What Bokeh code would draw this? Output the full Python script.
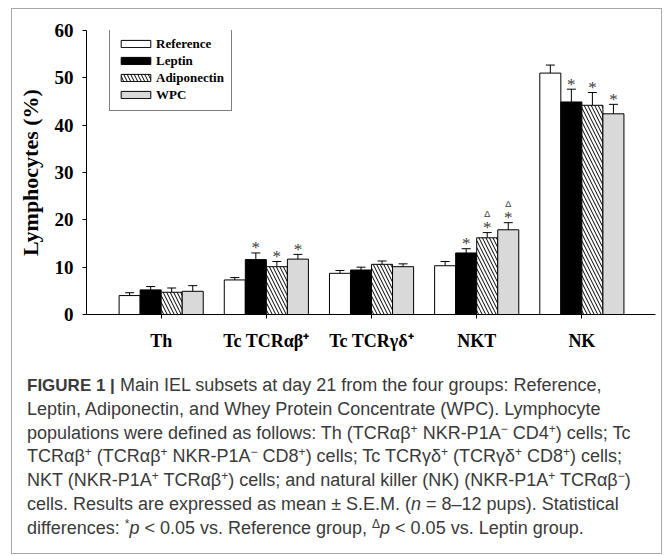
from bokeh.plotting import figure
from bokeh.layouts import column
from bokeh.models import (Range1d, FixedTicker, Legend, LegendItem, Div,
                          Whisker, ColumnDataSource, TeeHead)
from bokeh.core.properties import value
from bokeh.embed import file_html
from bokeh.resources import INLINE

# ---------------- data ----------------
categories = ["Th", "Tc TCRαβ⁺", "Tc TCRγδ⁺", "NKT", "NK"]
groups = ["Reference", "Leptin", "Adiponectin", "WPC"]
reference = [4.0, 7.3, 8.7, 10.3, 51.0]
leptin = [5.2, 11.6, 9.4, 13.0, 44.9]
adiponectin = [4.7, 10.1, 10.6, 16.2, 44.2]
wpc = [4.9, 11.7, 10.1, 17.9, 42.4]
reference_sem = [0.6, 0.5, 0.6, 0.9, 1.7]
leptin_sem = [0.7, 1.4, 0.6, 0.9, 2.7]
adiponectin_sem = [0.9, 1.1, 0.7, 1.1, 2.7]
wpc_sem = [1.2, 1.0, 0.6, 1.5, 2.0]
# * p<0.05 vs Reference ; Δ p<0.05 vs Leptin
reference_star = [False, False, False, False, False]
leptin_star = [False, True, False, True, True]
adiponectin_star = [False, True, False, True, True]
wpc_star = [False, True, False, True, True]
adiponectin_delta = [False, False, False, True, False]
wpc_delta = [False, False, False, True, False]
y_ticks = [0, 10, 20, 30, 40, 50, 60]
y_label = "Lymphocytes (%)"

SUP = '<sup style="font-size:12px;line-height:0;vertical-align:6px">{}</sup>'
P, M = SUP.format("+"), SUP.format("−")
caption_lines = [
    '<b style="font-size:17px">FIGURE 1 |</b> Main IEL subsets at day 21 from the four groups: Reference,',
    'Leptin, Adiponectin, and Whey Protein Concentrate (WPC). Lymphocyte',
    f'populations were defined as follows: Th (TCRαβ{P} NKR-P1A{M} CD4{P}) cells; Tc',
    f'TCRαβ{P} (TCRαβ{P} NKR-P1A{M} CD8{P}) cells; Tc TCRγδ{P} (TCRγδ{P} CD8{P}) cells;',
    f'NKT (NKR-P1A{P} TCRαβ{P}) cells; and natural killer (NK) (NKR-P1A{P} TCRαβ{M})',
    'cells. Results are expressed as mean ± S.E.M. (<i>n</i> = 8–12 pups). Statistical',
    f'differences: {SUP.format("*")}<i>p</i> &lt; 0.05 vs. Reference group, '
    f'{SUP.format("Δ")}<i>p</i> &lt; 0.05 vs. Leptin group.',
]

# ---------------- layout constants ----------------
OX, OY = 12, 9            # page offset of the framed block
W1, H1 = 649, 361         # chart canvas
W2, H2 = 649, 183         # caption block
FL, FR, FT, FB = 86, 655, 30, 314   # frame edges in page px
SERIF = "Liberation Serif"
SANS = "Liberation Sans"

p = figure(width=W1, height=H1, x_range=Range1d(-0.71, 4.70), y_range=Range1d(0, 60),
           output_backend="svg", toolbar_location=None,
           min_border_left=FL - OX, min_border_right=OX + W1 - FR, min_border_top=FT - OY,
           min_border_bottom=OY + H1 - FB)
p.background_fill_color = "white"
p.border_fill_color = "white"
p.outline_line_color = None
p.xgrid.visible = False
p.ygrid.visible = False

offsets = [-0.3, -0.1, 0.1, 0.3]
series = [reference, leptin, adiponectin, wpc]
sems = [reference_sem, leptin_sem, adiponectin_sem, wpc_sem]
stars = [reference_star, leptin_star, adiponectin_star, wpc_star]
deltas = [[False] * 5, [False] * 5, adiponectin_delta, wpc_delta]
styles = [
    dict(fill_color="white"),
    dict(fill_color="black"),
    dict(fill_color="white", hatch_pattern="\\", hatch_color="black", hatch_scale=7, hatch_weight=1),
    dict(fill_color="#d9d9d9"),
]

renderers = []
star_x, star_y, delta_x, delta_y = [], [], [], []
for g, off, vals, sm, st, dl, sty in zip(groups, offsets, series, sems, stars, deltas, styles):
    xs = [i + off for i in range(len(categories))]
    up = [v + s for v, s in zip(vals, sm)]
    src = ColumnDataSource(dict(x=xs, top=vals, upper=up))
    r = p.vbar(x="x", top="top", bottom=0, width=0.2, source=src,
               line_color="black", line_width=1, **sty)
    renderers.append(r)
    p.add_layout(Whisker(source=src, base="x", lower="top", upper="upper",
                         line_color="black", line_width=1, lower_head=None,
                         upper_head=TeeHead(size=9, line_color="black", line_width=1)))
    for x, u, s_, d_ in zip(xs, up, st, dl):
        if s_:
            star_x.append(x); star_y.append(u)
        if d_:
            delta_x.append(x); delta_y.append(u)

star_src = ColumnDataSource(dict(x=star_x, y=star_y, t=["*"] * len(star_x)))
p.text(x="x", y="y", text="t", source=star_src, text_align="center", text_baseline="alphabetic",
       y_offset=-5, text_font=value(SERIF), text_font_size=value("17px"), text_color="#3c3c3c")
delta_src = ColumnDataSource(dict(x=delta_x, y=delta_y, t=["Δ"] * len(delta_x)))
p.text(x="x", y="y", text="t", source=delta_src, text_align="center", text_baseline="alphabetic",
       y_offset=-19, text_font=value(SANS), text_font_size=value("9px"), text_color="#3c3c3c")

# ---------------- axes ----------------
p.xaxis.ticker = FixedTicker(ticks=list(range(len(categories))))
p.xaxis.major_label_overrides = {i: c for i, c in enumerate(categories)}
p.yaxis.ticker = FixedTicker(ticks=y_ticks)
for ax in (p.xaxis, p.yaxis):
    ax.axis_line_color = "black"
    ax.axis_line_width = 1
    ax.major_tick_line_color = "black"
    ax.major_tick_in = 0
    ax.major_tick_out = 4
    ax.minor_tick_line_color = None
    ax.major_label_text_font = SERIF
    ax.major_label_text_font_style = "bold"
    ax.major_label_text_color = "black"
p.xaxis.major_label_text_font_size = "18px"
p.xaxis.major_label_standoff = 12
p.yaxis.major_label_text_font_size = "19px"
p.yaxis.major_label_standoff = 9
p.yaxis.axis_label = y_label
p.yaxis.axis_label_text_font = SERIF
p.yaxis.axis_label_text_font_style = "bold"
p.yaxis.axis_label_text_font_size = "22px"
p.yaxis.axis_label_text_color = "black"
p.yaxis.axis_label_standoff = 9

# ---------------- legend ----------------
legend = Legend(items=[LegendItem(label=g, renderers=[r]) for g, r in zip(groups, renderers)],
                location=(23, 203), orientation="vertical",
                border_line_color="black", border_line_width=1,
                background_fill_color="white", background_fill_alpha=1,
                label_text_font=SERIF, label_text_font_style="bold", label_text_font_size="13px",
                label_text_color="black",
                glyph_width=37, glyph_height=9, label_height=17, label_standoff=2,
                padding=7, spacing=0, margin=0)
p.add_layout(legend, "center")

# ---------------- caption ----------------
caption_html = (
    '<div style="font-family:\'Liberation Sans\',Arial,sans-serif;font-size:18px;'
    'line-height:23.75px;color:#3a3a3a;white-space:nowrap;padding:4px 0 0 15px;margin:0;">'
    + "<br>".join(caption_lines) + "</div>"
)
cap = Div(text=caption_html, width=W2, height=H2, margin=(0, 0, 0, 0),
          styles={"overflow": "visible", "background-color": "white"})

layout = column(p, cap, margin=(OY, 0, 0, OX), spacing=0,
                styles={"outline": "1.5px solid #a8a8a8", "background-color": "white"})

open("out.html", "w").write(file_html(layout, INLINE))
